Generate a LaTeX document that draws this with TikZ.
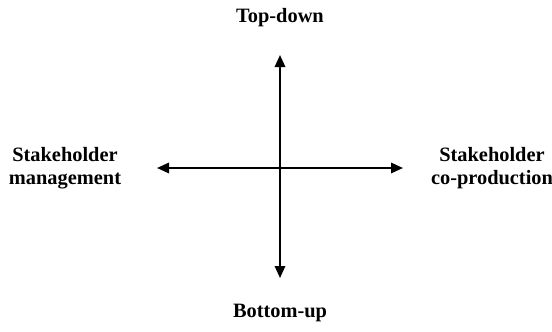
\documentclass[tikz,border=0pt]{standalone}
\usepackage{fontspec}
\setmainfont{Liberation Serif}
\usetikzlibrary{arrows.meta, positioning}

\begin{document}
\begin{tikzpicture}[
    axis/.style={{Triangle[length=0.3cm, width=0.26cm]}-{Triangle[length=0.3cm, width=0.26cm]}, line width=0.05cm},
    pole/.style={align=center, font=\fontsize{14.5}{16.5}\selectfont\bfseries}
]
    \useasboundingbox (0,0) rectangle (13.8,-8.275);

    % Axis ends
    \coordinate (top) at (7.0,-1.375);
    \coordinate (bottom) at (7.0,-6.95);
    \coordinate (left) at (3.925,-4.2);
    \coordinate (right) at (10.075,-4.2);

    % Axes
    \draw[axis] (bottom) -- (top);
    \draw[axis] (left) -- (right);

    % Labels
    \node[pole] (topdown) at (7.0,-0.45) {Top-down};
    \node[pole] (bottomup) at (7.0,-7.83) {Bottom-up};
    \node[pole] (manage) at (1.625,-4.2) {Stakeholder\\management};
    \node[pole] (coprod) at (12.3,-4.2) {Stakeholder\\co-production};
\end{tikzpicture}
\end{document}
